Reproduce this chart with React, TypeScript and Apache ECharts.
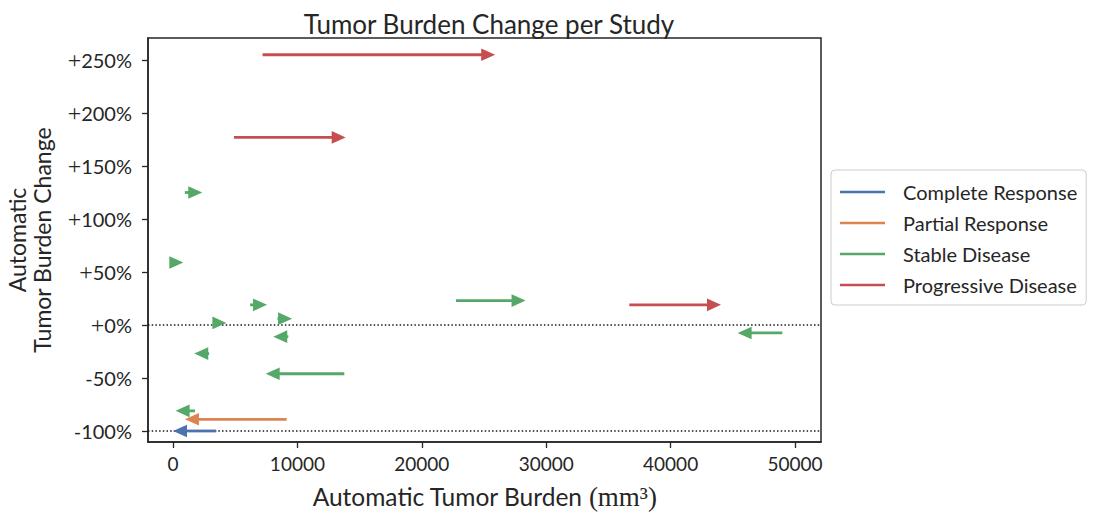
import React, { useEffect, useRef } from "react";
import * as echarts from "echarts";

// Each arrow: burden at first scan -> burden at last scan, at its relative change (%).
const completeStart = [3480];
const completeEnd = [0];
const completeChange = [-100];

const partialStart = [9140];
const partialEnd = [960];
const partialChange = [-89];

const stableStart = [950, 0, 6200, 3300, 8400, 9270, 2900, 13770, 1770, 22750, 48980];
const stableEnd = [2350, 830, 7560, 4290, 9570, 8060, 1710, 7450, 210, 28340, 45390];
const stableChange = [125, 59, 19, 2, 6, -11, -27, -46, -81, 23, -7.5];

const progressiveStart = [7200, 4900, 36680];
const progressiveEnd = [25900, 13880, 44050];
const progressiveChange = [255, 177, 19];

const responseNames = ["Complete Response", "Partial Response", "Stable Disease", "Progressive Disease"];
const responseColors = ["#4c72b0", "#dd8452", "#55a868", "#c44e52"];

const xTicks = [0, 10000, 20000, 30000, 40000, 50000];
const yTicks = [-100, -50, 0, 50, 100, 150, 200, 250];
const referenceLevels = [0, -100];

const X_MIN = -2010;
const X_MAX = 52090;
const Y_MIN = -110.4;
const Y_MAX = 270.8;

const INK = "#262626";
const SANS = "Lato, 'Noto Sans', sans-serif";
const SERIF = "'Liberation Serif', 'DejaVu Serif', serif";

function zip(a: number[], b: number[], c: number[]) {
  return a.map((v, i) => [v, b[i], c[i]]);
}

function arrowSeries(name: string, color: string, data: number[][]) {
  return {
    type: "custom",
    name,
    itemStyle: { color },
    encode: { x: [0, 1], y: 2 },
    data,
    z: 3,
    renderItem: (_params: any, api: any) => {
      const s = api.value(0);
      const e = api.value(1);
      const c = api.value(2);
      const p0 = api.coord([s, c]);
      const p1 = api.coord([e, c]);
      const dir = p1[0] >= p0[0] ? 1 : -1;
      const headLen = 14;
      const headHalf = 6.3;
      const bx = p1[0] - dir * headLen;
      const children: any[] = [];
      if ((bx - p0[0]) * dir > 0) {
        children.push({
          type: "line",
          shape: { x1: p0[0], y1: p0[1], x2: bx + dir * 1, y2: p0[1] },
          style: { stroke: color, lineWidth: 2.8 },
        });
      }
      children.push({
        type: "polygon",
        shape: {
          points: [
            [p1[0], p1[1]],
            [bx, p1[1] - headHalf],
            [bx, p1[1] + headHalf],
          ],
        },
        style: { fill: color },
      });
      return { type: "group", children };
    },
  };
}

export default function App() {
  const ref = useRef<HTMLDivElement>(null);

  useEffect(() => {
    if (!ref.current) return;
    const chart = echarts.init(ref.current, undefined, { renderer: "svg" });

    const option: any = {
      animation: false,
      backgroundColor: "#ffffff",
      title: {
        text: "Tumor Burden Change per Study",
        left: 484,
        top: 6,
        textAlign: "center",
        textStyle: { fontFamily: SANS, fontSize: 26, fontWeight: "normal", color: INK },
      },
      legend: {
        data: responseNames,
        orient: "vertical",
        left: 831,
        top: 170,
        width: 258,
        icon: "rect",
        itemWidth: 45,
        itemHeight: 2.5,
        itemGap: 11,
        padding: [12, 9, 10, 9],
        borderColor: "#cccccc",
        borderWidth: 1,
        borderRadius: 4,
        textStyle: { fontFamily: SANS, fontSize: 20, color: INK, lineHeight: 20, padding: [0, 0, 0, 13] },
      },
      grid: {
        left: 148,
        right: 274,
        top: 38,
        bottom: 76,
        containLabel: false,
        outerBoundsMode: "none",
        show: true,
        borderColor: INK,
        borderWidth: 1.5,
        backgroundColor: "transparent",
      },
      xAxis: {
        type: "value",
        min: X_MIN,
        max: X_MAX,
        name: "{a|Automatic Tumor Burden }{b|(mm³)}",
        nameLocation: "middle",
        nameGap: 41,
        nameTextStyle: {
          rich: {
            a: { fontFamily: SANS, fontSize: 24.5, color: INK },
            b: { fontFamily: SERIF, fontSize: 27, color: INK },
          },
        },
        splitLine: { show: false },
        axisLine: { show: true, onZero: false, lineStyle: { color: INK, width: 1.5 } },
        axisTick: { show: true, length: 6, customValues: xTicks, lineStyle: { color: INK, width: 1.3 } },
        axisLabel: {
          customValues: xTicks,
          margin: 12,
          formatter: (v: number) => String(v),
          fontFamily: SANS,
          fontSize: 19,
          color: INK,
        },
      },
      yAxis: {
        type: "value",
        min: Y_MIN,
        max: Y_MAX,
        name: "Automatic\nTumor Burden Change",
        nameLocation: "middle",
        nameGap: 94,
        nameTextStyle: { fontFamily: SANS, fontSize: 23, color: INK, lineHeight: 25 },
        splitLine: { show: false },
        axisLine: { show: true, onZero: false, lineStyle: { color: INK, width: 1.5 } },
        axisTick: { show: true, length: 6, customValues: yTicks, lineStyle: { color: INK, width: 1.3 } },
        axisLabel: {
          customValues: yTicks,
          margin: 16,
          formatter: (v: number) => (v >= 0 ? "{p|+}{t|" + v + "%}" : "{t|" + v + "%}"),
          rich: {
            p: { fontFamily: SERIF, fontSize: 24, color: INK },
            t: { fontFamily: SANS, fontSize: 20, color: INK },
          },
        },
      },
      series: [
        {
          type: "custom",
          name: "reference",
          silent: true,
          data: referenceLevels.map((v) => [v]),
          encode: { y: 0 },
          z: 1,
          renderItem: (params: any, api: any) => {
            const cs = params.coordSys;
            const y = api.coord([0, api.value(0)])[1];
            return {
              type: "line",
              shape: { x1: cs.x, y1: y, x2: cs.x + cs.width, y2: y },
              style: { stroke: "#1a1a1a", lineWidth: 1.5, lineDash: [1.5, 2.2] },
            };
          },
        },
        arrowSeries(responseNames[0], responseColors[0], zip(completeStart, completeEnd, completeChange)),
        arrowSeries(responseNames[1], responseColors[1], zip(partialStart, partialEnd, partialChange)),
        arrowSeries(responseNames[2], responseColors[2], zip(stableStart, stableEnd, stableChange)),
        arrowSeries(responseNames[3], responseColors[3], zip(progressiveStart, progressiveEnd, progressiveChange)),
      ],
    };

    chart.setOption(option);
    return () => chart.dispose();
  }, []);

  return (
    <div
      ref={ref}
      style={{ position: "fixed", left: 0, top: 0, width: 1095, height: 518, background: "#fff" }}
    />
  );
}
